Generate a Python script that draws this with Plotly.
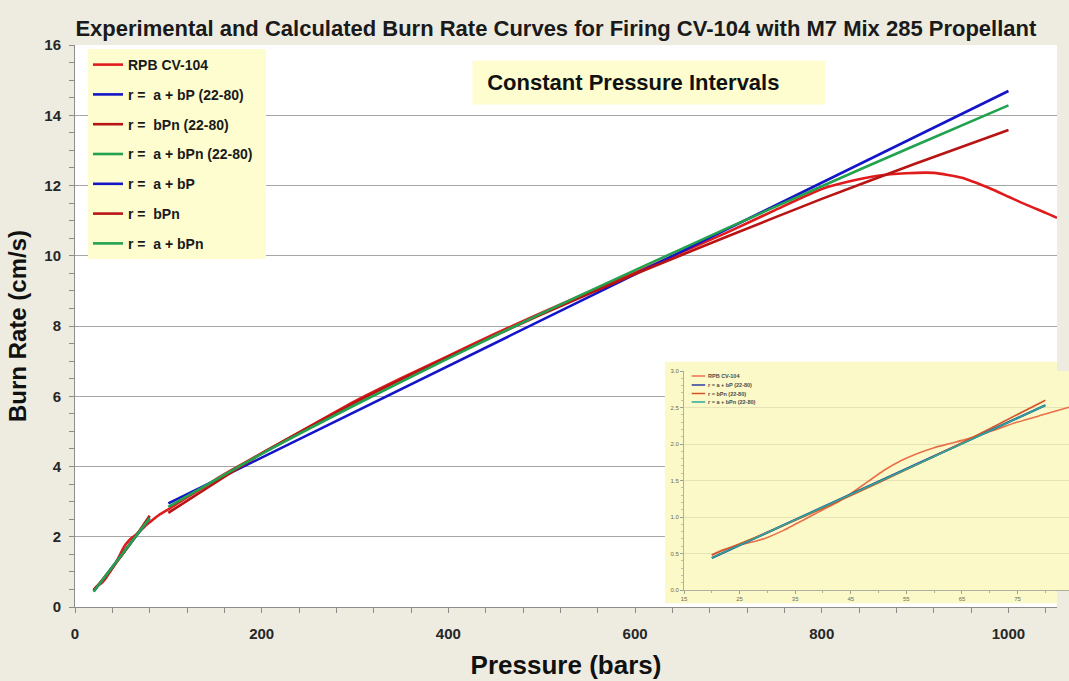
import plotly.graph_objects as go

# ---------------- data ----------------
rpb_p = [20, 22, 25, 28, 30, 33, 35, 38, 40, 43, 45, 48, 51, 54, 57, 60, 63, 66, 70, 75, 80, 85, 90,
         100, 120, 140, 160, 180, 200, 250, 300, 350, 400, 450, 500, 550, 600, 650, 700, 750, 800,
         830, 860, 890, 920, 950, 980, 1000, 1020, 1040, 1052]
rpb_r = [0.48, 0.55, 0.62, 0.67, 0.72, 0.82, 0.90, 1.02, 1.10, 1.22, 1.32, 1.48, 1.64, 1.77, 1.87, 1.95,
         2.01, 2.07, 2.17, 2.30, 2.41, 2.52, 2.62,
         2.78, 3.12, 3.45, 3.78, 4.08, 4.38, 5.12, 5.86, 6.52, 7.15, 7.78, 8.38, 8.96, 9.52, 10.10,
         10.68, 11.30, 11.90, 12.12, 12.28, 12.35, 12.36, 12.22, 11.92, 11.68, 11.44, 11.22, 11.08]

lin22_p = [20, 80]
lin22_r = [0.44, 2.53]
pow22_p = [20, 30, 40, 50, 60, 70, 80]
pow22_r = [0.48, 0.79, 1.12, 1.47, 1.83, 2.21, 2.60]
apow22_p = [20, 40, 60, 80]
apow22_r = [0.44, 1.13, 1.83, 2.53]

lin_p = [100, 1000]
lin_r = [2.95, 14.69]
fit_p = [100, 200, 300, 400, 500, 600, 700, 800, 900, 1000]
pow_r = [2.68, 4.37, 5.82, 7.12, 8.33, 9.48, 10.56, 11.62, 12.62, 13.58]
apow_r = [2.85, 4.36, 5.75, 7.08, 8.36, 9.59, 10.80, 11.98, 13.14, 14.28]

legend_names = ["RPB CV-104", "r =\u00a0 a + bP (22-80)", "r =\u00a0 bPn (22-80)",
                "r =\u00a0 a + bPn (22-80)\u00a0\u00a0",
                "r =\u00a0 a + bP", "r =\u00a0 bPn", "r =\u00a0 a + bPn"]
inset_names = ["RPB CV-104", "r = a + bP (22-80)", "r = bPn (22-80)", "r = a + bPn (22-80)"]

RED = "#e01b1b"
BLUE = "#1414c8"
DRED = "#b81414"
GREEN = "#22a24e"
I_RED = "#e8704a"
I_BLUE = "#2a3c9c"
I_BRN = "#d2552a"
I_TEAL = "#2aa89a"

FONT = "Liberation Sans, Arial, sans-serif"
W = 2.6

fig = go.Figure()
series = [
    (rpb_p, rpb_r, RED, True),
    (lin22_p, lin22_r, BLUE, False),
    (pow22_p, pow22_r, DRED, True),
    (apow22_p, apow22_r, GREEN, False),
    (lin_p, lin_r, BLUE, False),
    (fit_p, pow_r, DRED, True),
    (fit_p, apow_r, GREEN, True),
]
for i, (xs, ys, col, spl) in enumerate(series):
    fig.add_trace(go.Scatter(
        x=xs, y=ys, mode="lines", name=legend_names[i], legendgroup=f"g{i}",
        line=dict(color=col, width=W, shape="spline" if spl else "linear", smoothing=0.6),
        xaxis="x", yaxis="y"))

# inset traces
inset_series = [
    (rpb_p, rpb_r, I_RED, True, 1.6),
    (lin22_p, lin22_r, I_BLUE, False, 2.2),
    (pow22_p, pow22_r, I_BRN, True, 1.6),
    (apow22_p, apow22_r, I_TEAL, False, 1.6),
]
for i, (xs, ys, col, spl, w) in enumerate(inset_series):
    fig.add_trace(go.Scatter(
        x=xs, y=ys, mode="lines", name=inset_names[i], showlegend=False,
        line=dict(color=col, width=w, shape="spline" if spl else "linear", smoothing=0.6),
        xaxis="x2", yaxis="y2"))

BEIGE = "#eeece1"
LEG_Y = "#fdfdd0"
INSET_Y = "#fbf9c8"
AX = "#8c8c8c"

fig.update_layout(
    width=1069, height=681,
    margin=dict(l=75, r=0, t=45, b=74),
    paper_bgcolor=BEIGE, plot_bgcolor="white",
    title=dict(text="Experimental and Calculated Burn Rate Curves for Firing CV-104 with M7 Mix 285 Propellant",
               font=dict(family=FONT, size=22, color="#1a1a1a", weight="bold"),
               x=0.52, xanchor="center", xref="container", y=1 - 28 / 681, yanchor="middle", yref="container"),
    showlegend=True,
    legend=dict(x=(88 - 75) / 994, y=(607 - 49) / 562, xanchor="left", yanchor="top",
                bgcolor=LEG_Y, borderwidth=0, tracegroupgap=8.6, traceorder="grouped",
                font=dict(family=FONT, size=14, color="#1a1a1a", weight="bold")),
    xaxis=dict(domain=[0, 982 / 994], range=[0, 1052], dtick=200, tick0=0,
               showgrid=False, zeroline=False, showline=True, linecolor=AX, linewidth=1,
               ticks="outside", ticklen=5, tickcolor=AX,
               minor=dict(dtick=40, ticks="outside", ticklen=5, tickcolor=AX, showgrid=False),
               tickfont=dict(family=FONT, size=15, color="#262626", weight="bold"),
               ticklabelstandoff=8,
               title=dict(text="Pressure (bars)", standoff=14,
                          font=dict(family=FONT, size=26, color="#111", weight="bold")),
               anchor="y"),
    yaxis=dict(domain=[0, 1], range=[0, 16], dtick=2, tick0=0,
               showgrid=True, gridcolor="#a6a6a6", gridwidth=1, zeroline=False,
               showline=True, linecolor=AX, linewidth=1,
               ticks="outside", ticklen=5, tickcolor=AX,
               minor=dict(dtick=0.5, ticks="outside", ticklen=5, tickcolor=AX, showgrid=False),
               tickfont=dict(family=FONT, size=15, color="#262626", weight="bold"),
               ticklabelstandoff=5,
               title=dict(text="Burn Rate (cm/s)", standoff=10,
                          font=dict(family=FONT, size=24, color="#111", weight="bold")),
               anchor="x"),
    xaxis2=dict(domain=[(684 - 75) / 994, 1.0], range=[15, 84.25], dtick=10, tick0=15,
                showgrid=False, zeroline=False, showline=True, linecolor="#b0b0a0", linewidth=1,
                ticks="outside", ticklen=3, tickcolor="#a0a090",
                minor=dict(dtick=5, ticks="outside", ticklen=2, tickcolor="#b0b0a0"),
                tickfont=dict(family=FONT, size=6, color="#6a6a5a"),
                anchor="y2"),
    yaxis2=dict(domain=[(607 - 590) / 562, (607 - 371) / 562], range=[0, 3], dtick=0.5, tick0=0,
                tickformat=".1f",
                showgrid=True, gridcolor="#e6e3b6", gridwidth=1, zeroline=False,
                showline=True, linecolor="#b0b0a0", linewidth=1,
                ticks="outside", ticklen=3, tickcolor="#a0a090",
                minor=dict(dtick=0.1, ticks="outside", ticklen=2, tickcolor="#c0c0b0"),
                tickfont=dict(family=FONT, size=6, color="#6a6a5a"),
                anchor="x2"),
)

# inset background (covers main gridlines under the inset)
fig.add_shape(type="rect", xref="x", yref="y", x0=632, x1=1100, y0=0.11, y1=6.98,
              fillcolor=INSET_Y, line=dict(width=0), layer="between")
fig.add_shape(type="rect", xref="x2", yref="y2", x0=0, x1=100, y0=-1, y1=5,
              fillcolor=INSET_Y, line=dict(width=0), layer="below")

# "Constant Pressure Intervals" label
fig.add_annotation(text="\u00a0\u00a0Constant Pressure Intervals", xref="paper", yref="paper",
                   x=(649 - 75) / 994, y=(607 - 82.5) / 562, xanchor="center", yanchor="middle",
                   showarrow=False, bgcolor=LEG_Y, width=348, height=39, align="left", borderpad=2,
                   font=dict(family=FONT, size=22, color="#111", weight="bold"))

# inset legend
inset_cols = [I_RED, I_BLUE, I_BRN, I_TEAL]
rows_px = [376, 385, 393.5, 402]
for name, col, py in zip(inset_names, inset_cols, rows_px):
    yd = (590 - py) / 219
    fig.add_shape(type="line", xref="x2 domain", yref="y2 domain", x0=0.02, x1=0.055, y0=yd, y1=yd,
                  line=dict(color=col, width=1.5), layer="above")
    fig.add_annotation(text=name, xref="x2 domain", yref="y2 domain", x=0.058, y=yd,
                       xanchor="left", yanchor="middle", showarrow=False,
                       font=dict(family=FONT, size=5.5, color="#4a4a4a", weight="bold"))

fig.write_html("out.html", config={"displayModeBar": False},
               post_script="document.body.style.margin='0px';")
